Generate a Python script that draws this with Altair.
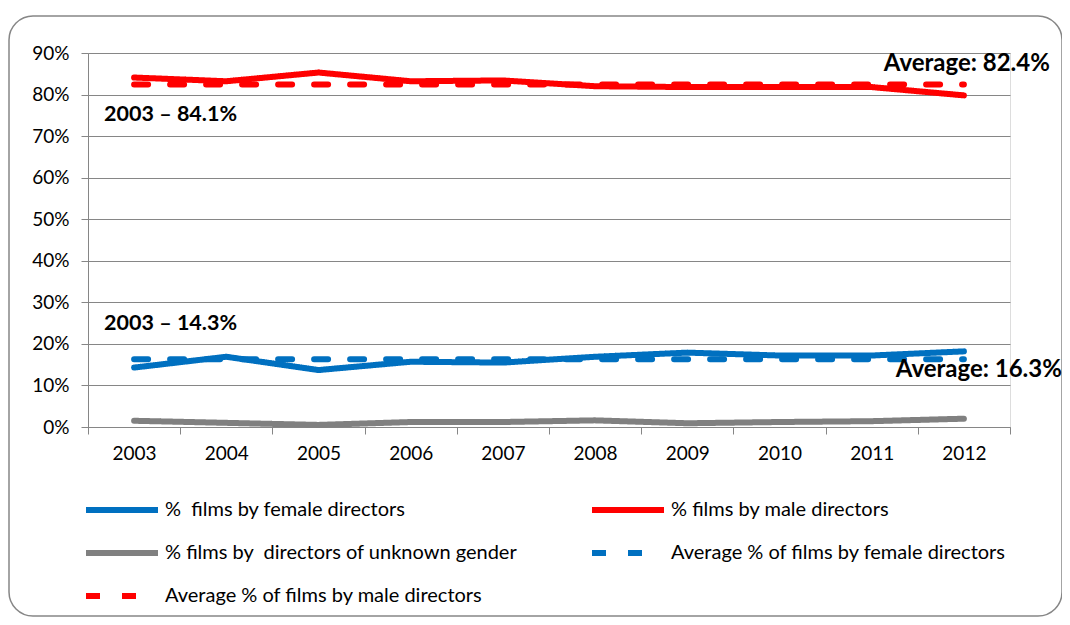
import altair as alt
import pandas as pd

years = ["2003", "2004", "2005", "2006", "2007", "2008", "2009", "2010", "2011", "2012"]
female = [14.3, 16.9, 13.7, 15.7, 15.5, 16.9, 17.9, 17.2, 17.2, 18.2]
male = [84.1, 83.2, 85.3, 83.2, 83.4, 82.0, 81.8, 81.8, 81.8, 79.8]
unknown = [1.5, 1.0, 0.5, 1.2, 1.2, 1.6, 0.9, 1.2, 1.4, 2.0]
avg_female = 16.3
avg_male = 82.4

series_names = [
    "%\u00a0 films by female directors",
    "% films by male directors",
    "% films by\u00a0 directors of unknown gender",
    "Average % of films by female directors",
    "Average % of films by male directors",
]
series_colors = ["#0070C0", "#FF0000", "#808080", "#0070C0", "#FF0000"]
series_dash = [[1, 0], [1, 0], [1, 0], [14, 22], [14, 22]]

rows = []
for i, y in enumerate(years):
    rows.append({"year": y, "series": series_names[3], "value": avg_female})
    rows.append({"year": y, "series": series_names[4], "value": avg_male})
    rows.append({"year": y, "series": series_names[0], "value": female[i]})
    rows.append({"year": y, "series": series_names[1], "value": male[i]})
    rows.append({"year": y, "series": series_names[2], "value": unknown[i]})
df = pd.DataFrame(rows)

ann_text = ["2003 \u2013 84.1%", "2003 \u2013 14.3%", "Average: 82.4%", "Average: 16.3%"]
ann_year = ["2003", "2003", "2012", "2012"]
ann_value = [84.1, 14.3, 82.4, 16.3]

FONT = "Lato"

x_enc = alt.X(
    "year:N",
    scale=alt.Scale(type="band", domain=years, paddingInner=0, paddingOuter=0),
    bandPosition=0.5,
    axis=alt.Axis(
        title=None, labelAngle=0, tickBand="extent", grid=False,
        domainColor="#868686", tickColor="#868686", tickSize=7,
        labelFontSize=19, labelFont=FONT, labelColor="#000000", labelPadding=10,
    ),
)
y_enc = alt.Y(
    "value:Q",
    scale=alt.Scale(domain=[0, 90], nice=False),
    axis=alt.Axis(
        title=None, values=[0, 10, 20, 30, 40, 50, 60, 70, 80, 90],
        labelExpr="datum.value + '%'", grid=True, gridColor="#868686",
        domainColor="#868686", tickColor="#868686", tickSize=7,
        labelFontSize=19, labelFont=FONT, labelColor="#000000", labelPadding=12,
    ),
)

legend = alt.Legend(
    title=None, orient="none", legendX=-5, legendY=447, direction="horizontal",
    columns=2, columnPadding=71, rowPadding=23, clipHeight=20,
    symbolType="stroke", symbolSize=5184, symbolStrokeWidth=6,
    labelFontSize=20, labelFont=FONT, labelColor="#000000", labelOffset=4,
    labelLimit=600,
)

lines = alt.Chart(df).mark_line(strokeWidth=6, strokeCap="round", strokeJoin="round").encode(
    x=x_enc,
    y=y_enc,
    color=alt.Color("series:N", scale=alt.Scale(domain=series_names, range=series_colors), legend=legend),
    strokeDash=alt.StrokeDash("series:N", scale=alt.Scale(domain=series_names, range=series_dash), legend=legend),
    detail="series:N",
    order=alt.Order("year:N"),
)

ann_df = pd.DataFrame({"year": ann_year, "value": ann_value, "text": ann_text})

def ann(idx, align, dx, dy, size):
    return alt.Chart(ann_df.iloc[[idx]]).mark_text(
        font=FONT, fontSize=size, fontWeight="bold", align=align, baseline="middle",
        color="#000000", dx=dx, dy=dy,
    ).encode(x=alt.X("year:N", bandPosition=0.5), y="value:Q", text="text:N")

ann1 = ann(0, "left", -30, 37, 21.5)
ann2 = ann(1, "left", -30, -44, 21.5)
ann3 = ann(2, "right", 86, -21, 24)
ann4 = ann(3, "right", 98, 11, 24)

border = alt.Chart(pd.DataFrame({"k": [0]})).mark_rect(
    fill="white", fillOpacity=0, stroke="#868686", strokeWidth=1.5, cornerRadius=24,
).encode(
    x=alt.value(-79), x2=alt.value(974), y=alt.value(-37), y2=alt.value(563),
)

chart = alt.layer(border, lines, ann1, ann2, ann3, ann4).properties(
    width=922, height=374,
    autosize=alt.AutoSizeParams(type="none"),
    padding={"left": 80, "top": 45, "right": 52, "bottom": 190},
).configure_view(stroke=None).configure(background="white")

chart.save("out.html", embed_options={"renderer": "svg", "actions": False})
